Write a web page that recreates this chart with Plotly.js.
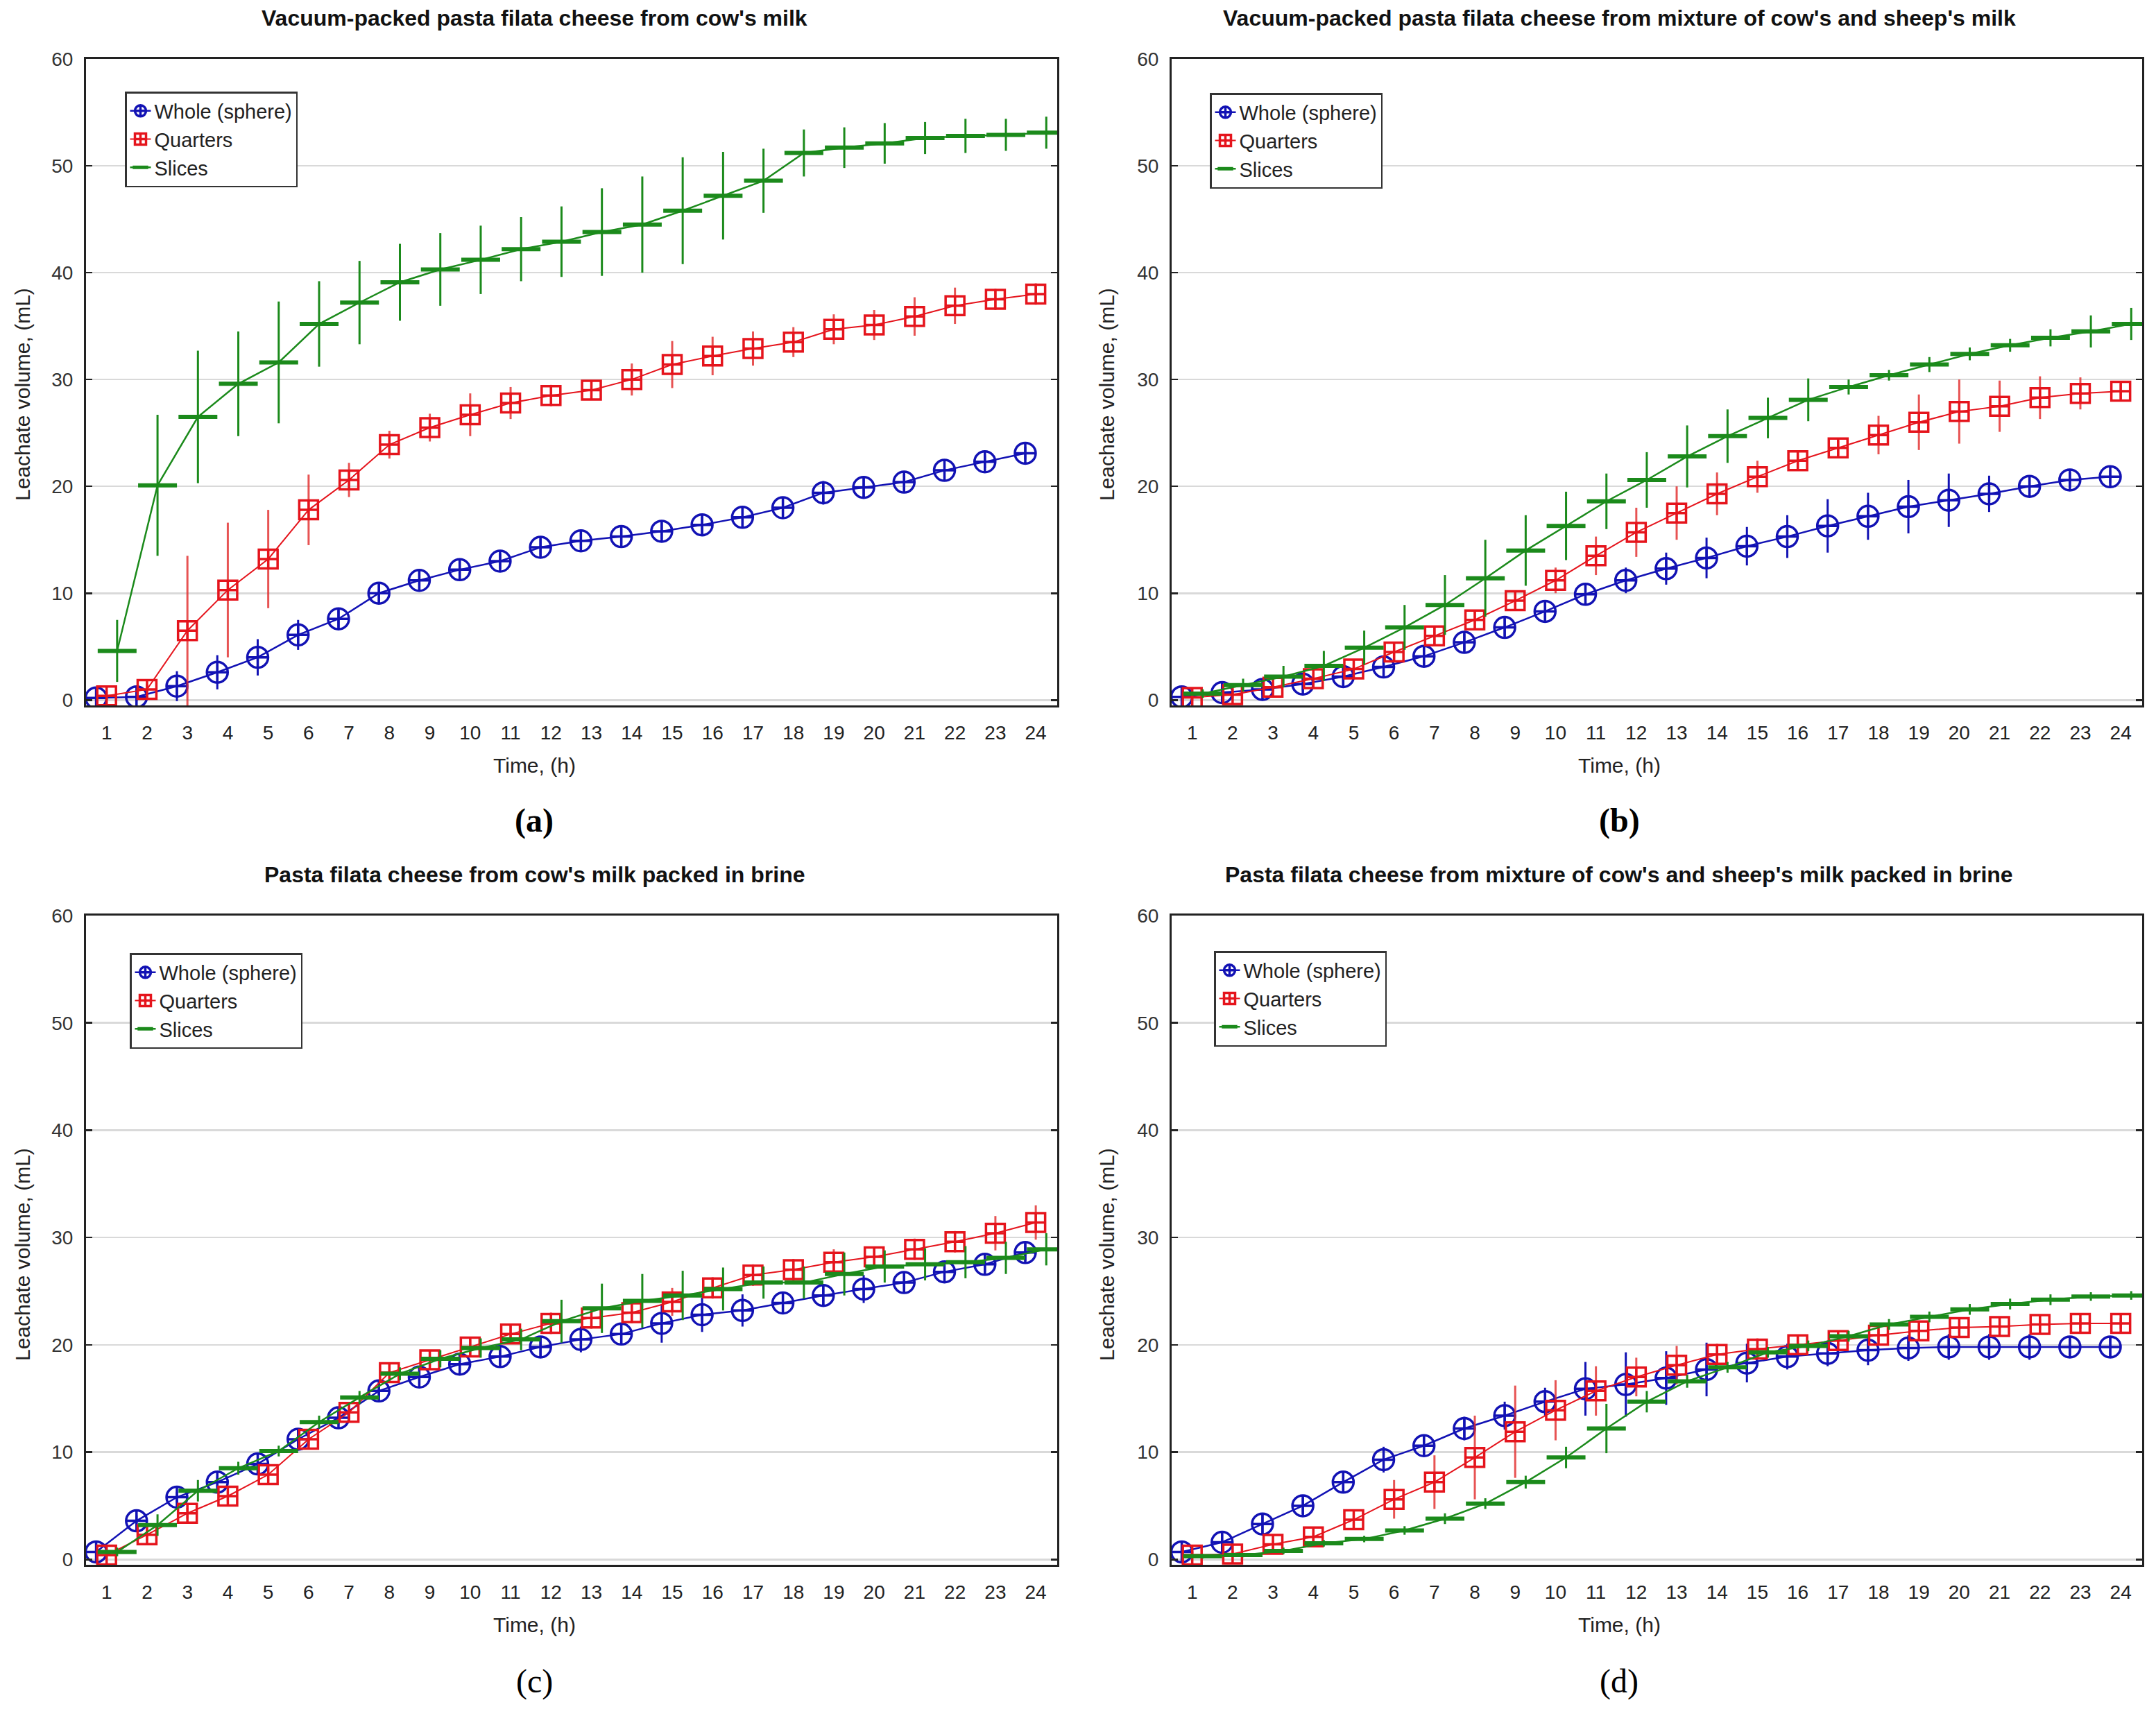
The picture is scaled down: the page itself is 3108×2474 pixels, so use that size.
<!DOCTYPE html>
<html>
<head>
<meta charset="utf-8">
<script src="https://cdn.plot.ly/plotly-3.0.1.min.js"></script>
<style>
html,body{margin:0;padding:0;background:#fff;}
#chart{width:3108px;height:2474px;}
</style>
</head>
<body>
<div id="chart"></div>
<script>
// ---------- data ----------
const hours = [1,2,3,4,5,6,7,8,9,10,11,12,13,14,15,16,17,18,19,20,21,22,23,24];
const hourLabels = ["1","2","3","4","5","6","7","8","9","10","11","12","13","14","15","16","17","18","19","20","21","22","23","24"];
const seriesNames = ["Whole (sphere)", "Quarters", "Slices"];
const panelTitles = [
  "Vacuum-packed pasta filata cheese from cow's milk",
  "Vacuum-packed pasta filata cheese from mixture of cow's and sheep's milk",
  "Pasta filata cheese from cow's milk packed in brine",
  "Pasta filata cheese from mixture of cow's and sheep's milk packed in brine"
];
const panelLetters = ["(a)", "(b)", "(c)", "(d)"];
const xTitle = "Time, (h)";
const yTitle = "Leachate volume, (mL)";

// (a)
const a_whole      = [0.2,0.3,1.3,2.6,4.0,6.1,7.6,10.0,11.2,12.2,13.0,14.3,14.9,15.3,15.8,16.4,17.1,18.0,19.4,19.9,20.4,21.5,22.3,23.1];
const a_whole_err  = [0.3,0.4,1.4,1.6,1.7,1.4,0.8,0.8,1.0,0.8,0.7,0.8,0.8,0.7,0.8,0.8,0.9,0.8,1.1,0.9,0.8,0.7,0.6,0.6];
const a_quart      = [0.4,1.0,6.5,10.3,13.2,17.8,20.6,23.9,25.5,26.7,27.8,28.5,29.0,30.0,31.4,32.2,32.9,33.5,34.7,35.1,35.9,36.9,37.5,38.0];
const a_quart_err  = [0.4,0.5,7.0,6.3,4.6,3.3,1.6,1.3,1.3,2.0,1.5,1.0,0.8,1.5,2.2,1.8,1.6,1.4,1.4,1.4,1.8,1.7,1.0,1.0];
const a_slice      = [4.6,20.1,26.5,29.6,31.6,35.2,37.2,39.1,40.3,41.2,42.2,42.9,43.8,44.5,45.8,47.2,48.6,51.2,51.7,52.1,52.6,52.8,52.9,53.1];
const a_slice_err  = [2.9,6.6,6.2,4.9,5.7,4.0,3.9,3.6,3.4,3.2,3.0,3.3,4.1,4.5,5.0,4.1,3.0,2.2,1.9,1.9,1.5,1.6,1.5,1.5];
// (b)
const b_whole      = [0.3,0.7,1.0,1.5,2.2,3.1,4.1,5.4,6.8,8.3,9.9,11.2,12.3,13.3,14.4,15.3,16.3,17.2,18.1,18.7,19.3,20.0,20.6,20.9];
const b_whole_err  = [0.3,0.3,0.5,0.6,0.8,1.0,1.0,0.8,0.8,0.8,1.0,1.2,1.5,1.9,1.8,2.0,2.5,2.2,2.5,2.5,1.7,0.8,0.7,0.6];
const b_quart      = [0.25,0.5,1.2,2.0,2.9,4.5,6.0,7.5,9.3,11.2,13.5,15.7,17.5,19.3,20.9,22.4,23.6,24.8,26.0,27.0,27.5,28.3,28.7,28.9];
const b_quart_err  = [0.3,0.3,0.4,0.5,0.6,0.7,0.8,0.8,0.8,1.2,1.8,2.3,2.5,2.0,1.5,0.7,0.7,1.8,2.6,3.0,2.4,2.0,1.5,0.7];
const b_slice      = [0.6,1.4,2.2,3.2,4.9,6.8,8.9,11.4,14.0,16.3,18.6,20.6,22.8,24.7,26.4,28.1,29.3,30.4,31.4,32.4,33.2,33.9,34.5,35.2];
const b_slice_err  = [0.4,0.6,1.0,1.4,1.6,2.1,2.8,3.6,3.3,3.2,2.6,2.6,2.9,2.5,1.9,2.0,0.7,0.5,0.7,0.6,0.6,0.8,1.5,1.5];
// (c)
const c_whole      = [0.7,3.6,5.8,7.2,8.9,11.2,13.2,15.7,17.0,18.2,18.9,19.8,20.5,21.0,22.0,22.8,23.2,23.9,24.6,25.2,25.8,26.8,27.5,28.6];
const c_whole_err  = [0.4,0.5,0.5,0.5,0.5,0.5,0.6,0.6,0.8,0.7,0.8,1.0,1.2,1.0,1.8,1.6,1.5,1.0,1.0,1.3,1.0,0.7,0.7,0.8];
const c_quart      = [0.4,2.3,4.3,5.9,7.9,11.2,13.7,17.4,18.6,19.8,21.0,22.0,22.5,23.0,24.0,25.3,26.5,27.0,27.7,28.2,28.9,29.6,30.4,31.4];
const c_quart_err  = [0.3,0.5,0.5,0.5,0.6,0.6,0.7,0.8,0.7,0.7,0.9,1.0,1.0,1.0,1.3,1.0,1.0,1.0,1.2,0.8,1.0,1.0,1.6,1.6];
const c_slice      = [0.7,3.2,6.4,8.5,10.1,12.8,15.1,17.3,18.7,19.7,20.5,22.2,23.4,24.1,24.6,25.2,25.8,25.8,26.6,27.3,27.5,27.7,28.1,28.9];
const c_slice_err  = [0.4,1.0,1.0,0.6,0.5,0.6,0.6,0.6,0.8,0.9,1.0,2.0,2.3,2.5,2.3,2.0,1.5,1.5,2.0,1.5,1.5,1.5,1.5,1.5];
// (d)
const d_whole      = [0.7,1.6,3.3,5.0,7.2,9.3,10.6,12.2,13.4,14.7,15.9,16.3,16.9,17.7,18.3,18.9,19.2,19.5,19.7,19.8,19.8,19.8,19.8,19.8];
const d_whole_err  = [0.4,0.8,1.0,0.8,1.0,1.2,1.0,1.1,1.3,1.3,2.5,3.0,2.5,2.5,1.8,1.2,1.2,1.4,1.2,1.2,1.2,1.2,1.0,1.0];
const d_quart      = [0.4,0.5,1.4,2.1,3.7,5.6,7.2,9.5,11.9,13.9,15.7,17.0,18.1,19.1,19.6,20.0,20.4,20.9,21.3,21.6,21.7,21.9,22.0,22.0];
const d_quart_err  = [0.3,0.3,0.4,0.4,0.6,1.8,2.5,3.9,4.3,2.8,2.3,1.8,1.8,1.0,1.0,0.8,0.5,0.5,0.5,0.5,0.5,0.5,0.5,0.5];
const d_slice      = [0.3,0.4,0.8,1.5,1.9,2.7,3.8,5.2,7.2,9.5,12.2,14.7,16.6,17.9,19.3,19.9,20.8,21.9,22.6,23.3,23.8,24.2,24.5,24.6];
const d_slice_err  = [0.2,0.2,0.3,0.3,0.3,0.4,0.5,0.5,0.6,1.0,2.3,1.0,0.6,0.5,0.5,0.5,0.5,0.5,0.5,0.5,0.5,0.5,0.4,0.4];

const panels = [
  {whole:a_whole, wholeErr:a_whole_err, quart:a_quart, quartErr:a_quart_err, slice:a_slice, sliceErr:a_slice_err},
  {whole:b_whole, wholeErr:b_whole_err, quart:b_quart, quartErr:b_quart_err, slice:b_slice, sliceErr:b_slice_err},
  {whole:c_whole, wholeErr:c_whole_err, quart:c_quart, quartErr:c_quart_err, slice:c_slice, sliceErr:c_slice_err},
  {whole:d_whole, wholeErr:d_whole_err, quart:d_quart, quartErr:d_quart_err, slice:d_slice, sliceErr:d_slice_err}
];

// ---------- styles ----------
const BLUE = "#1212b4", RED = "#e5141c", GREEN = "#1b8a1b";
const FONT = "Liberation Sans, Arial, sans-serif";
const DODGE = [-0.26, 0, 0.26];   // Statistica-style horizontal offset per series
const W = 3108, H = 2474;

const colX = [[124/W, 1524/W], [1689/W, 3088/W]];
const rowY = [[1-1017/H, 1-85/H], [1-2256/H, 1-1320/H]];
const colCenter = [770/W, 2334/W];
const yTitleX = [32/W, 1595/W];
const titleY = [1-26/H, 1-1261/H];
const xTitleY = [1-1103/H, 1-2342/H];
const letterY = [1-1183/H, 1-2424/H];
const yTitleY = [1-569/H, 1-1809/H];
const legendPos = [[180/W, 1-132/H], [1744/W, 1-134/H], [187/W, 1-1374/H], [1750/W, 1-1371/H]];

const traces = [];
const layout = {
  width: W, height: H,
  margin: {l:0, r:0, t:0, b:0},
  paper_bgcolor: "#fff", plot_bgcolor: "#fff",
  font: {family: FONT, size: 28, color: "#222"},
  annotations: []
};

panels.forEach((p, i) => {
  const col = i % 2, row = Math.floor(i / 2);
  const n = i + 1;
  const xa = n === 1 ? "x" : "x" + n;
  const ya = n === 1 ? "y" : "y" + n;
  const legendId = n === 1 ? "legend" : "legend" + n;

  const mk = (name, ys, errs, color, dodge, marker, lineW, errColor) => ({
    type: "scatter", mode: "lines+markers",
    name: name, legend: legendId, showlegend: true,
    x: hours.map(h => h + dodge), y: ys,
    xaxis: xa, yaxis: ya,
    line: {color: color, width: lineW},
    marker: marker,
    error_y: {type: "data", array: errs, visible: true, width: 0, thickness: 3, color: errColor},
    cliponaxis: true
  });

  traces.push(mk(seriesNames[0], p.whole, p.wholeErr, BLUE, DODGE[0],
    {symbol: "circle-cross-open", size: 30, color: BLUE, line: {color: BLUE, width: 3.5}}, 2.5, BLUE));
  traces.push(mk(seriesNames[1], p.quart, p.quartErr, RED, DODGE[1],
    {symbol: "square-cross-open", size: 27, color: RED, line: {color: RED, width: 3.5}}, 2, "rgba(225,40,40,0.8)"));
  traces.push(mk(seriesNames[2], p.slice, p.sliceErr, GREEN, DODGE[2],
    {symbol: "line-ew", size: 40, color: GREEN, line: {color: GREEN, width: 6}}, 2.5, GREEN));

  const xKey = n === 1 ? "xaxis" : "xaxis" + n;
  const yKey = n === 1 ? "yaxis" : "yaxis" + n;
  layout[xKey] = {
    domain: colX[col], anchor: ya, range: [0.49, 24.53],
    tickmode: "array", tickvals: hours, ticktext: hourLabels,
    ticks: "", showgrid: false, zeroline: false,
    showline: true, linecolor: "#222", linewidth: 3, mirror: true,
    tickfont: {family: FONT, size: 28, color: "#222"},
    ticklabelstandoff: 12
  };
  layout[yKey] = {
    domain: rowY[row], anchor: xa, range: [-0.5, 60],
    tickmode: "linear", tick0: 0, dtick: 10,
    ticks: "inside", ticklen: 9, tickwidth: 2.5, tickcolor: "#222",
    showgrid: true, gridcolor: "#d9d9d9", gridwidth: 2.5, zeroline: false,
    showline: true, linecolor: "#222", linewidth: 3, mirror: "ticks",
    tickfont: {family: FONT, size: 28, color: "#333"},
    ticklabelstandoff: 10
  };
  // overlay axis that carries the tick marks every 2 h (odd hours)
  const tn = n + 4;
  layout["xaxis" + tn] = {
    overlaying: xa, anchor: ya, range: [0.49, 24.53],
    tickmode: "array", tickvals: hours.filter(h => h % 2 === 1),
    ticks: "inside", ticklen: 9, tickwidth: 2.5, tickcolor: "#222",
    showticklabels: false, showgrid: false, zeroline: false, showline: false,
    mirror: "ticks"
  };

  layout[legendId] = {
    x: legendPos[i][0], y: legendPos[i][1], xanchor: "left", yanchor: "top",
    bgcolor: "#fff", bordercolor: "#333", borderwidth: 2.5,
    font: {family: FONT, size: 29, color: "#222"},
    itemwidth: 30, tracegroupgap: 0
  };

  layout.annotations.push(
    {text: "<b>" + panelTitles[i] + "</b>", xref: "paper", yref: "paper", x: colCenter[col], y: titleY[row],
     xanchor: "center", yanchor: "middle", showarrow: false, font: {family: FONT, size: 32, color: "#111"}},
    {text: xTitle, xref: "paper", yref: "paper", x: colCenter[col], y: xTitleY[row],
     xanchor: "center", yanchor: "middle", showarrow: false, font: {family: FONT, size: 30, color: "#222"}},
    {text: yTitle, xref: "paper", yref: "paper", x: yTitleX[col], y: yTitleY[row], textangle: -90,
     xanchor: "center", yanchor: "middle", showarrow: false, font: {family: FONT, size: 30, color: "#222"}},
    {text: row === 0 ? "<b>" + panelLetters[i] + "</b>" : panelLetters[i], xref: "paper", yref: "paper",
     x: colCenter[col], y: letterY[row], xanchor: "center", yanchor: "middle", showarrow: false,
     font: {family: "Liberation Serif, Times New Roman, serif", size: 48, color: "#000"}}
  );
});

Plotly.newPlot("chart", traces, layout, {displayModeBar: false, staticPlot: true});
</script>
</body>
</html>
